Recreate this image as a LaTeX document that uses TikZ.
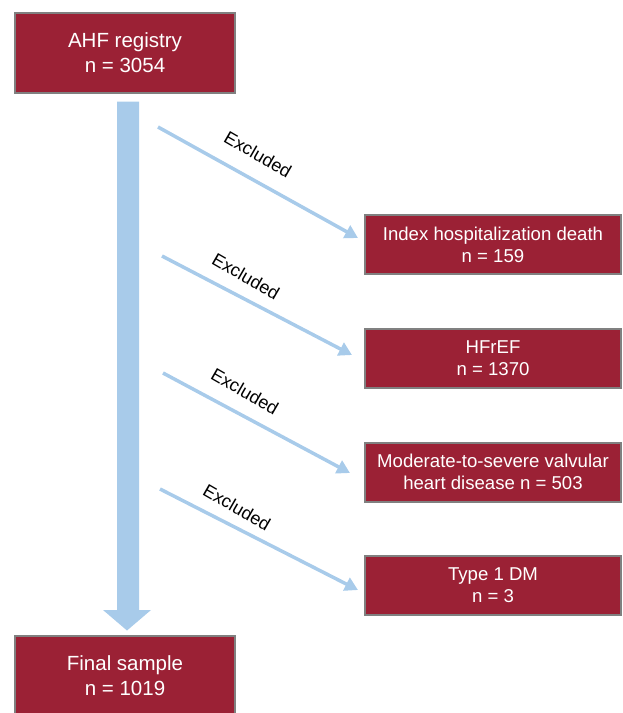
\documentclass[tikz,border=0pt]{standalone}
\usepackage{fontspec}
\setmainfont{Liberation Sans}
\usetikzlibrary{arrows.meta,calc}
\definecolor{boxred}{RGB}{155,33,53}
\definecolor{boxgray}{RGB}{128,128,128}
\definecolor{arrblue}{RGB}{168,203,234}
\begin{document}
\begin{tikzpicture}[x=1pt,y=-1pt,
  redbox/.style={draw=boxgray,line width=2pt,fill=boxred,text=white,align=center,inner sep=0pt},
  bigbox/.style={redbox,minimum width=220pt,minimum height=80pt,font=\fontsize{20.5}{25}\selectfont},
  sidebox/.style={redbox,minimum width=256pt,minimum height=59pt,font=\fontsize{18.6}{22}\selectfont},
  exarrow/.style={draw=arrblue,line width=3.5pt,-{Triangle[length=13pt,width=14pt]}},
  exlabel/.style={font=\fontsize{18}{20}\selectfont,rotate=-30,inner sep=0pt}]
\useasboundingbox (0,0) rectangle (623,713);
\node[bigbox] (top) at (125,52.5) {AHF registry\\n = 3054};
\node[bigbox] (final) at (125,675.5) {Final sample\\n = 1019};
\node[sidebox] (b1) at (493,244.5) {Index hospitalization death\\n = 159};
\node[sidebox] (b2) at (493,358) {HFrEF\\n = 1370};
\node[sidebox] (b3) at (493,472) {Moderate-to-severe valvular\\heart disease n = 503};
\node[sidebox] (b4) at (493,585) {Type 1 DM\\n = 3};
% big downward arrow
\fill[arrblue] ($(top.south)+(-8,8)$) -- ($(top.south)+(14,8)$) -- (139,610) -- (151,610)
  -- ($(final.north)+(2,-4)$) -- (103,610) -- (117,610) -- cycle;
% exclusion arrows
\coordinate (s1) at (158,127); \coordinate (e1) at (358,238);
\coordinate (s2) at (162,256); \coordinate (e2) at (352,355);
\coordinate (s3) at (163,373); \coordinate (e3) at (350,473);
\coordinate (s4) at (160,489); \coordinate (e4) at (358,590);
\draw[exarrow] (s1) -- (e1);
\draw[exarrow] (s2) -- (e2);
\draw[exarrow] (s3) -- (e3);
\draw[exarrow] (s4) -- (e4);
\node[exlabel] (l1) at (258,154) {Excluded};
\node[exlabel] (l2) at (246,276) {Excluded};
\node[exlabel] (l3) at (245,391) {Excluded};
\node[exlabel] (l4) at (237,507) {Excluded};
\end{tikzpicture}
\end{document}
